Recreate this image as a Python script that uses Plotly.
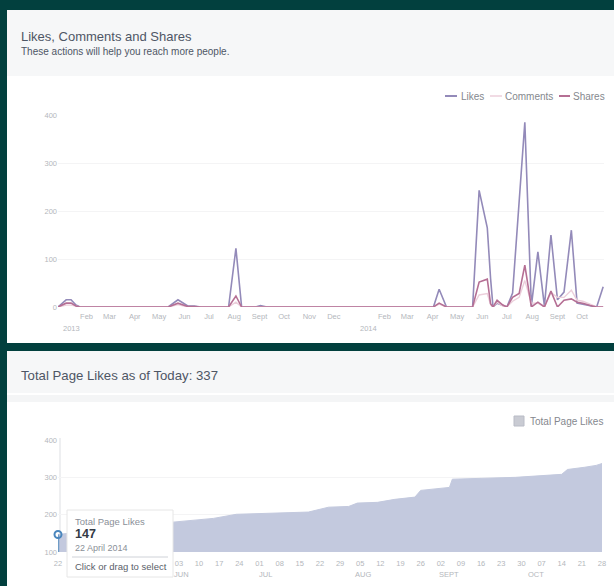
import plotly.graph_objects as go

W, H = 614, 586

# ---------- data ----------
activity_dates = ["2012-12-28","2013-01-03","2013-01-07","2013-01-13","2013-01-19","2013-01-24",
    "2013-05-12","2013-05-24","2013-06-05","2013-06-13","2013-06-21","2013-07-25","2013-08-03","2013-08-10",
    "2013-08-27","2013-09-02","2013-09-10","2014-04-02","2014-04-09","2014-04-18","2014-05-20","2014-05-28",
    "2014-06-07","2014-06-11","2014-06-14","2014-06-19","2014-06-26","2014-07-01","2014-07-08","2014-07-16",
    "2014-07-23","2014-07-31","2014-08-08","2014-08-16","2014-08-24","2014-09-01","2014-09-09","2014-09-18",
    "2014-09-25","2014-10-02","2014-10-11","2014-10-19","2014-10-27"]
likes = [0,8,15,15,4,0, 0,15,2,2,0,0,122,0, 0,3,0,0,37,0,0,243,
         165,60,0,8,4,0,29,229, 385,2,115,2,150,15,31,160, 8,6,3,0,42]
comments = [0,2,4,4,1,0, 0,5,0,0,0,0,10,0, 0,0,0,0,6,0,0,25,
            28,5,0,10,2,0,12,20, 55,8,8,0,30,20,20,35, 14,12,6,0,0]
shares = [0,4,8,8,2,0, 0,8,1,1,0,0,23,0, 0,1,0,0,8,0,0,52,
          58,7,0,14,4,0,20,28, 87,0,10,0,33,0,14,17, 10,8,3,0,0]

month_ticks = ["2013-02-01","2013-03-01","2013-04-01","2013-05-01","2013-06-01","2013-07-01","2013-08-01",
               "2013-09-01","2013-10-01","2013-11-01","2013-12-01","2014-02-01","2014-03-01","2014-04-01",
               "2014-05-01","2014-06-01","2014-07-01","2014-08-01","2014-09-01","2014-10-01"]
month_labels = ["Feb","Mar","Apr","May","Jun","Jul","Aug","Sept","Oct","Nov","Dec",
                "Feb","Mar","Apr","May","Jun","Jul","Aug","Sept","Oct"]
activity_ticks = [0,100,200,300,400]

total_dates = ["2014-04-22","2014-05-01","2014-05-20","2014-06-01","2014-06-15","2014-06-23","2014-07-18",
               "2014-07-25","2014-08-01","2014-08-04","2014-08-11","2014-08-17","2014-08-24","2014-08-26",
               "2014-09-05","2014-09-06","2014-09-28","2014-10-14","2014-10-16","2014-10-22","2014-10-26","2014-10-28"]
total_likes = [147,155,170,180,190,201,207,220,222,231,233,241,247,265,273,295,300,308,321,327,332,337]
week_ticks = ["2014-04-22","2014-06-03",
              "2014-06-10","2014-06-17","2014-06-24","2014-07-01","2014-07-08","2014-07-15","2014-07-22",
              "2014-07-29","2014-08-05","2014-08-12","2014-08-19","2014-08-26","2014-09-02","2014-09-09",
              "2014-09-16","2014-09-23","2014-09-30","2014-10-07","2014-10-14","2014-10-21","2014-10-28"]
week_labels = ["22","03","10","17","24","01","08","15","22","29","05","12","19","26",
               "02","09","16","23","30","07","14","21","28"]
total_ticks = [100,200,300,400]
month_marks = [("2014-06-04","JUN"),("2014-07-03","JUL"),("2014-08-06","AUG"),
               ("2014-09-05","SEPT"),("2014-10-05","OCT")]

# ---------- style ----------
BG = "#02403e"
HEAD = "#f6f7f8"
TXT = "#4e5665"
TICK = "#b4b7bc"
LEG = "#85888e"
FONT = "Liberation Sans"
C_LIKES, C_COMMENTS, C_SHARES, C_AREA = "#938ab9", "#eccfdb", "#b56f94", "#c3c9de"

def px(x): return x / W
def py(y): return 1 - y / H

def rect(x0, y0, x1, y1, fill, layer="below", line=None):
    return dict(type="rect", xref="paper", yref="paper", x0=px(x0), x1=px(x1), y0=py(y0), y1=py(y1),
                fillcolor=fill, line=dict(color=line or fill, width=1 if line else 0), layer=layer)

def hline(x0, x1, y, color, width=1):
    return dict(type="line", xref="paper", yref="paper", x0=px(x0), x1=px(x1), y0=py(y), y1=py(y),
                line=dict(color=color, width=width), layer="above")

def label(x, y, text, size, color=TXT, anchor="left", **kw):
    return dict(xref="paper", yref="paper", x=px(x), y=py(y), text=text, showarrow=False, xanchor=anchor,
                yanchor="middle", xshift=-1, font=dict(size=size, color=color, family=FONT), **kw)

fig = go.Figure()
fig.add_trace(go.Scatter(x=activity_dates, y=likes, name="Likes", mode="lines",
                         line=dict(color=C_LIKES, width=1.6), xaxis="x", yaxis="y"))
fig.add_trace(go.Scatter(x=activity_dates, y=comments, name="Comments", mode="lines",
                         line=dict(color=C_COMMENTS, width=1.4), xaxis="x", yaxis="y"))
fig.add_trace(go.Scatter(x=activity_dates, y=shares, name="Shares", mode="lines",
                         line=dict(color=C_SHARES, width=1.6), xaxis="x", yaxis="y"))
fig.add_trace(go.Scatter(x=total_dates, y=total_likes, name="Total Page Likes", mode="lines", fill="tozeroy",
                         fillcolor=C_AREA, line=dict(color=C_AREA, width=1), xaxis="x2", yaxis="y2"))
fig.add_trace(go.Scatter(x=total_dates[:1], y=total_likes[:1], mode="markers", cliponaxis=False,
                         marker=dict(symbol="circle-open", size=7, color="#4a86bd", line=dict(width=2)),
                         error_y=dict(type="data", symmetric=False, array=[0],
                                      arrayminus=[total_likes[0] - total_ticks[0]],
                                      color="#6f9cc6", thickness=2.5, width=0),
                         xaxis="x2", yaxis="y2"))

shapes = [
    rect(7, 10, W, 343, "#ffffff"),
    rect(7, 10, W, 76, HEAD),
    rect(7, 351, W, H, "#ffffff"),
    rect(7, 351, W, 393, HEAD),
    rect(7, 395, W, 402, "#f4f5f6"),
    # faint vertical axis of the lower chart
    dict(type="line", xref="paper", yref="paper", x0=px(60), x1=px(60), y0=py(552), y1=py(438),
         line=dict(color="#eeeff1", width=2), layer="below"),
    # hand-placed legend keys
    hline(445, 457, 96, C_LIKES, 2),
    hline(490, 502, 96, C_COMMENTS, 1.5),
    hline(559, 570, 96, C_SHARES, 2),
    rect(514, 416, 524, 426, "#c9cbd3", layer="above", line="#b9bcc6"),
    # tooltip box
    rect(67, 510, 173, 577, "#ffffff", layer="above", line="#e6e6e6"),
    hline(72, 168, 557, "#cfd2d8"),
]
annotations = [
    label(20, 36, "Likes, Comments and Shares", 13),
    label(20, 52, "These actions will help you reach more people.", 10),
    label(20, 375, "Total Page Likes as of Today: 337", 13.2),
    label(460, 96, "Likes", 10, LEG),
    label(504, 96, "Comments", 10, LEG),
    label(572, 96, "Shares", 10, LEG),
    label(529, 421, "Total Page Likes", 10, LEG),
    label(74, 521, "Total Page Likes", 9.5, "#8a8f98"),
    label(74, 534, "<b>147</b>", 12.5, "#333a45"),
    label(74, 548, "22 April 2014", 9, "#8a8f98"),
    label(74, 566, "Click or drag to select", 9.5, "#5a6069"),
    dict(xref="x", yref="paper", x="2013-01-13", y=py(328), yanchor="middle", text="2013", showarrow=False,
         font=dict(size=7.5, color=TICK, family=FONT)),
    dict(xref="x", yref="paper", x="2014-01-13", y=py(328), yanchor="middle", text="2014", showarrow=False,
         font=dict(size=7.5, color=TICK, family=FONT)),
]
for d, m in month_marks:
    annotations.append(dict(xref="x2", yref="paper", x=d, y=py(574), yanchor="middle", text=m, showarrow=False,
                            font=dict(size=7.5, color=TICK, family=FONT)))

axis_common = dict(showline=False, zeroline=False, tickfont=dict(size=7.5, color=TICK, family=FONT), ticks="")
fig.update_layout(
    width=W, height=H, margin=dict(l=0, r=0, t=0, b=0, pad=0, autoexpand=False), autosize=False,
    showlegend=False,
    paper_bgcolor=BG, plot_bgcolor="rgba(0,0,0,0)", font=dict(family=FONT, color=TICK),
    shapes=shapes, annotations=annotations,
    xaxis=dict(domain=[px(58), px(604)], anchor="y", type="date", range=["2012-12-28", "2014-10-28"],
               tickmode="array", tickvals=month_ticks, ticktext=month_labels, showgrid=False,
               ticklabelstandoff=3, **axis_common),
    yaxis=dict(domain=[py(307), py(115)], anchor="x", range=[0, 400], tickmode="array", tickvals=activity_ticks,
               showgrid=True, gridcolor="#f4f4f5", gridwidth=1, **axis_common),
    xaxis2=dict(domain=[px(58), px(602)], anchor="y2", type="date", range=["2014-04-22", "2014-10-28"],
                tickmode="array", tickvals=week_ticks, ticktext=week_labels, showgrid=False,
                ticklabelstandoff=5, **axis_common),
    yaxis2=dict(domain=[py(552), py(440)], anchor="x2", range=[100, 400], tickmode="array", tickvals=total_ticks,
                showgrid=True, gridcolor="#f4f4f5", gridwidth=1, **axis_common),
)
fig.write_html("out.html", config={"displayModeBar": False},
               post_script="document.body.style.margin='0';document.body.style.background='%s';" % BG)
